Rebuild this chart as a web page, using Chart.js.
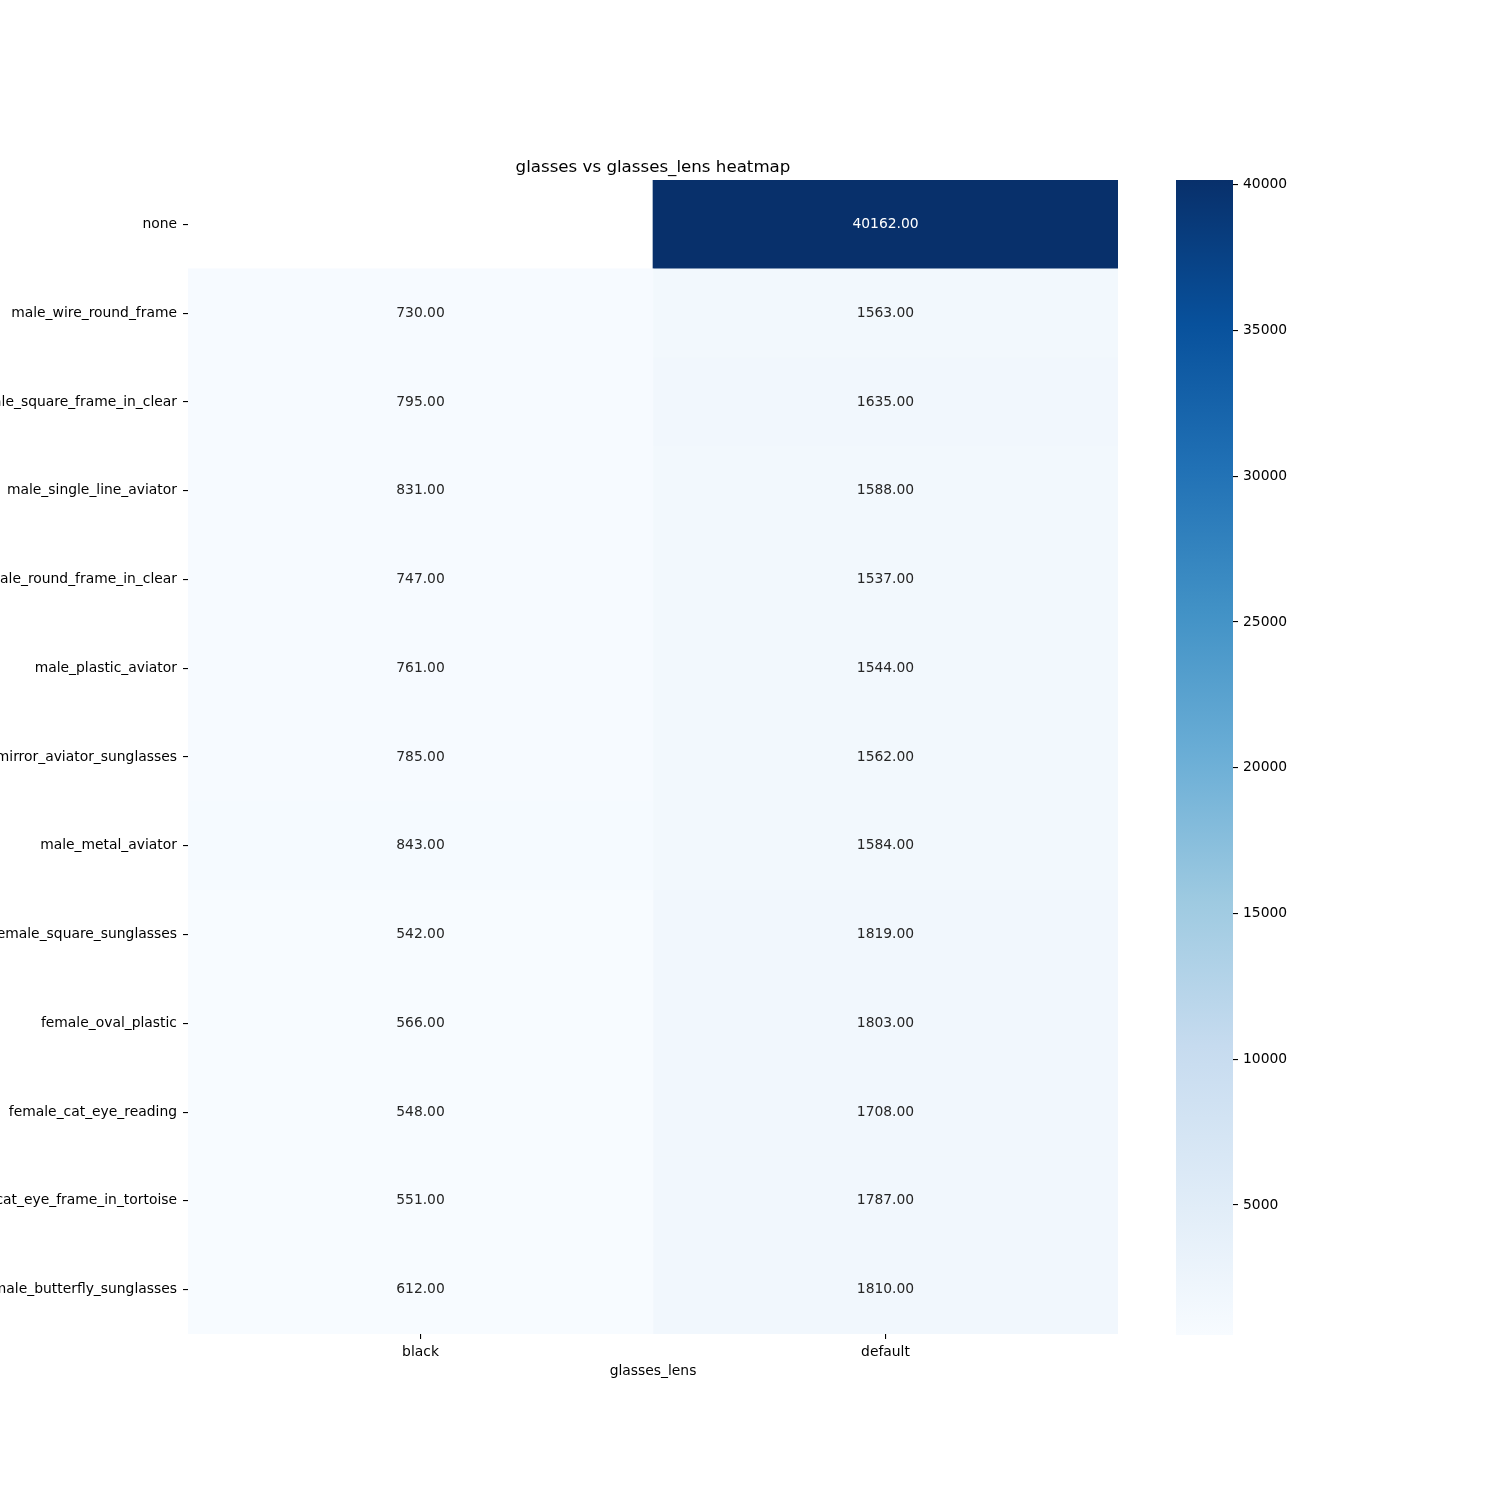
<!DOCTYPE html>
<html><head><meta charset="utf-8">
<script src="https://cdn.jsdelivr.net/npm/chart.js@4.4.1/dist/chart.umd.min.js"></script>
<style>
html,body{margin:0;padding:0;background:#fff;}
#wrap{position:relative;width:1500px;height:1500px;background:#fff;}
canvas{position:absolute;left:0;top:0;}
</style></head><body>
<div id="wrap"><canvas id="main" width="1500" height="1500"></canvas><canvas id="cbar" width="1500" height="1500"></canvas></div>
<script>
// ---- data ----
const rows = [
  'none',
  'male_wire_round_frame',
  'male_square_frame_in_clear',
  'male_single_line_aviator',
  'male_round_frame_in_clear',
  'male_plastic_aviator',
  'male_mirror_aviator_sunglasses',
  'male_metal_aviator',
  'female_square_sunglasses',
  'female_oval_plastic',
  'female_cat_eye_reading',
  'female_cat_eye_frame_in_tortoise',
  'female_butterfly_sunglasses'
];
const columns = ['black', 'default'];
const blackValues = [null, 730, 795, 831, 747, 761, 785, 843, 542, 566, 548, 551, 612];
const defaultValues = [40162, 1563, 1635, 1588, 1537, 1544, 1562, 1584, 1819, 1803, 1708, 1787, 1810];
const colorbarTicks = [5000, 10000, 15000, 20000, 25000, 30000, 35000, 40000];
const chartTitle = 'glasses vs glasses_lens heatmap';
const xTitle = 'glasses_lens';

// ---- colormap (matplotlib Blues) ----
const series = [blackValues, defaultValues];
const allVals = series.flat().filter(v => v != null);
const vmin = Math.min(...allVals), vmax = Math.max(...allVals);
const BLUES = ['#f7fbff','#deebf7','#c6dbef','#9ecae1','#6baed6','#4292c6','#2171b5','#08519c','#08306b'];
function hexRgb(h){ return [parseInt(h.slice(1,3),16), parseInt(h.slice(3,5),16), parseInt(h.slice(5,7),16)]; }
const BLUES_RGB = BLUES.map(hexRgb);
function cmapRgb(t){
  t = Math.max(0, Math.min(1, t));
  const s = t * 8; const i = Math.min(7, Math.floor(s)); const f = s - i;
  const a = BLUES_RGB[i], b = BLUES_RGB[i+1];
  return [0,1,2].map(k => a[k] + (b[k]-a[k]) * f);
}
function colorFor(v){ const c = cmapRgb((v - vmin) / (vmax - vmin)); return `rgb(${c.map(x=>Math.round(x)).join(',')})`; }
function textColorFor(v){
  const c = cmapRgb((v - vmin) / (vmax - vmin)).map(x => { x /= 255; return x <= 0.03928 ? x/12.92 : Math.pow((x+0.055)/1.055, 2.4); });
  const lum = 0.2126*c[0] + 0.7152*c[1] + 0.0722*c[2];
  return lum > 0.408 ? '#262626' : '#ffffff';
}

const FONT_FAMILY = "'DejaVu Sans', sans-serif";
const tickFont = { family: FONT_FAMILY, size: 13.89, weight: 'normal' };

const annotPlugin = {
  id: 'annot',
  afterDatasetsDraw(chart){
    const ctx = chart.ctx;
    ctx.save();
    ctx.font = `13.89px ${FONT_FAMILY}`;
    ctx.textAlign = 'center';
    ctx.textBaseline = 'middle';
    columns.forEach((c, ci) => {
      const meta = chart.getDatasetMeta(ci);
      series[ci].forEach((v, ri) => {
        if (v == null) return;
        const el = meta.data[ri];
        const p = el.getProps(['x','y','base'], true);
        ctx.fillStyle = textColorFor(v);
        ctx.fillText(v.toFixed(2), (p.x + p.base) / 2, p.y);
      });
    });
    ctx.restore();
  }
};

new Chart(document.getElementById('main'), {
  type: 'bar',
  data: {
    labels: rows,
    datasets: columns.map((c, ci) => ({
      label: c,
      data: series[ci].map(v => v == null ? null : [ci, ci + 1]),
      backgroundColor: series[ci].map(v => v == null ? 'rgba(0,0,0,0)' : colorFor(v)),
      borderWidth: 0,
      barPercentage: 1,
      categoryPercentage: 1,
      grouped: false
    }))
  },
  options: {
    indexAxis: 'y',
    responsive: false,
    animation: false,
    devicePixelRatio: 1,
    layout: { padding: { top: 0, left: 0, right: 382, bottom: 0 } },
    plugins: {
      legend: { display: false },
      tooltip: { enabled: false },
      title: {
        display: true, text: chartTitle, fullSize: false, color: '#000',
        font: { family: FONT_FAMILY, size: 16.67, weight: 'normal' },
        padding: { top: 158, bottom: 2 }
      }
    },
    scales: {
      x: {
        type: 'linear', min: 0, max: 2,
        afterBuildTicks: s => { s.ticks = columns.map((c, i) => ({ value: i + 0.5 })); },
        ticks: { callback: (v, i) => columns[i], color: '#000', font: tickFont, padding: 5.5, autoSkip: false, maxRotation: 0 },
        grid: { drawOnChartArea: false, drawTicks: true, tickLength: 5, color: '#000', lineWidth: 1.1 },
        border: { display: false },
        title: { display: true, text: xTitle, color: '#000', font: tickFont, padding: { top: 0, bottom: 120.7 } },
        afterFit: s => { s.height = 166; }
      },
      y: {
        type: 'category', offset: true,
        grid: { offset: false, drawOnChartArea: false, drawTicks: true, tickLength: 5, color: '#000', lineWidth: 1.1 },
        border: { display: false },
        ticks: { color: '#000', font: tickFont, padding: 6, autoSkip: false },
        afterFit: s => { s.width = 188; }
      }
    }
  },
  plugins: [annotPlugin]
});

new Chart(document.getElementById('cbar'), {
  type: 'bar',
  data: {
    labels: ['colorbar'],
    datasets: [{
      data: [[vmin, vmax]],
      backgroundColor: (c) => {
        const a = c.chart.chartArea;
        if (!a) return BLUES[0];
        const g = c.chart.ctx.createLinearGradient(0, a.bottom, 0, a.top);
        BLUES.forEach((col, i) => g.addColorStop(i / 8, col));
        return g;
      },
      borderWidth: 0,
      barPercentage: 1,
      categoryPercentage: 1
    }]
  },
  options: {
    responsive: false,
    animation: false,
    devicePixelRatio: 1,
    layout: { padding: { top: 180, left: 1176, right: 167, bottom: 165 } },
    plugins: { legend: { display: false }, tooltip: { enabled: false }, title: { display: false } },
    scales: {
      x: { display: false },
      y: {
        position: 'right', min: vmin, max: vmax,
        afterBuildTicks: s => { s.ticks = colorbarTicks.map(v => ({ value: v })); },
        ticks: { color: '#000', font: tickFont, padding: 5, callback: v => String(v) },
        grid: { drawOnChartArea: false, drawTicks: true, tickLength: 5, color: '#000', lineWidth: 1.1 },
        border: { display: false },
        afterFit: s => { s.width = 100; }
      }
    }
  }
});
</script>
</body></html>
